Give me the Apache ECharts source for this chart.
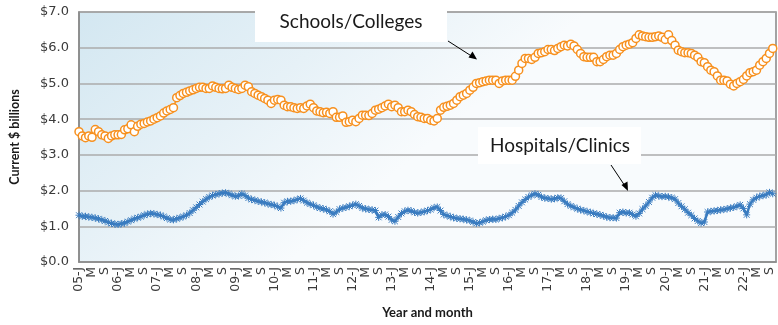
<!DOCTYPE html>
<html>
<head>
<meta charset="utf-8">
<script src="https://cdn.jsdelivr.net/npm/echarts@6/dist/echarts.min.js"></script>
<style>
  html, body { margin: 0; padding: 0; background: #ffffff; }
  #chart { width: 778px; height: 325px; }
</style>
</head>
<body>
<div id="chart"></div>
<script>
// Monthly construction spending, Jan 2005 - Oct 2022 (current $ billions)
const years = ['05','06','07','08','09','10','11','12','13','14','15','16','17','18','19','20','21','22'];
const monthLetters = ['J','F','M','A','M','J','J','A','S','O','N','D'];
const yTicks = [0, 1, 2, 3, 4, 5, 6, 7];

const schoolsColleges = [
  // 2005
  3.65, 3.53, 3.48, 3.53, 3.49, 3.71, 3.65, 3.56, 3.53, 3.46, 3.53, 3.56,
  // 2006
  3.56, 3.57, 3.70, 3.73, 3.84, 3.65, 3.80, 3.86, 3.88, 3.92, 3.95, 4.00,
  // 2007
  4.04, 4.09, 4.17, 4.23, 4.27, 4.32, 4.60, 4.66, 4.72, 4.75, 4.79, 4.82,
  // 2008
  4.86, 4.89, 4.89, 4.86, 4.86, 4.93, 4.89, 4.86, 4.85, 4.86, 4.95, 4.89,
  // 2009
  4.86, 4.83, 4.86, 4.95, 4.91, 4.77, 4.72, 4.67, 4.63, 4.58, 4.53, 4.44,
  // 2010
  4.53, 4.55, 4.53, 4.39, 4.35, 4.35, 4.32, 4.30, 4.32, 4.30, 4.37, 4.42,
  // 2011
  4.32, 4.23, 4.21, 4.18, 4.19, 4.16, 4.21, 4.05, 4.05, 4.09, 3.91, 3.93,
  // 2012
  3.97, 3.93, 4.02, 4.11, 4.11, 4.10, 4.16, 4.25, 4.28, 4.32, 4.37, 4.42,
  // 2013
  4.35, 4.39, 4.32, 4.21, 4.21, 4.25, 4.21, 4.13, 4.07, 4.05, 4.02, 4.02,
  // 2014
  3.97, 3.95, 4.02, 4.25, 4.33, 4.36, 4.39, 4.44, 4.53, 4.63, 4.67, 4.72,
  // 2015
  4.81, 4.89, 5.00, 5.02, 5.05, 5.07, 5.09, 5.09, 5.09, 5.00, 5.07, 5.09,
  // 2016
  5.09, 5.09, 5.20, 5.37, 5.56, 5.70, 5.70, 5.67, 5.73, 5.84, 5.86, 5.89,
  // 2017
  5.95, 5.95, 5.92, 5.98, 6.03, 6.07, 6.05, 6.10, 6.05, 5.95, 5.84, 5.75,
  // 2018
  5.73, 5.73, 5.73, 5.61, 5.61, 5.67, 5.75, 5.79, 5.79, 5.84, 5.95, 6.03,
  // 2019
  6.07, 6.10, 6.14, 6.26, 6.36, 6.33, 6.31, 6.29, 6.29, 6.31, 6.33, 6.29,
  // 2020
  6.23, 6.36, 6.20, 6.07, 5.93, 5.89, 5.86, 5.86, 5.84, 5.79, 5.73, 5.61,
  // 2021
  5.58, 5.47, 5.37, 5.33, 5.21, 5.09, 5.09, 5.07, 4.98, 4.93, 5.00, 5.05,
  // 2022 (Jan - Oct)
  5.11, 5.21, 5.30, 5.33, 5.37, 5.51, 5.61, 5.70, 5.84, 5.98
];

const hospitalsClinics = [
  // 2005
  1.31, 1.28, 1.28, 1.26, 1.25, 1.23, 1.21, 1.18, 1.15, 1.11, 1.08, 1.06,
  // 2006
  1.05, 1.07, 1.09, 1.13, 1.17, 1.21, 1.24, 1.27, 1.31, 1.34, 1.36, 1.35,
  // 2007
  1.33, 1.31, 1.27, 1.23, 1.19, 1.18, 1.21, 1.24, 1.27, 1.31, 1.37, 1.45,
  // 2008
  1.53, 1.61, 1.69, 1.76, 1.82, 1.86, 1.89, 1.91, 1.93, 1.94, 1.91, 1.87,
  // 2009
  1.84, 1.85, 1.91, 1.86, 1.79, 1.75, 1.73, 1.70, 1.68, 1.66, 1.63, 1.61,
  // 2010
  1.59, 1.55, 1.51, 1.66, 1.70, 1.70, 1.72, 1.75, 1.78, 1.72, 1.66, 1.62,
  // 2011
  1.59, 1.54, 1.51, 1.49, 1.46, 1.42, 1.34, 1.40, 1.48, 1.51, 1.53, 1.56,
  // 2012
  1.59, 1.62, 1.57, 1.51, 1.49, 1.47, 1.46, 1.44, 1.25, 1.32, 1.33, 1.27,
  // 2013
  1.18, 1.14, 1.26, 1.36, 1.42, 1.45, 1.43, 1.39, 1.37, 1.39, 1.41, 1.44,
  // 2014
  1.47, 1.52, 1.54, 1.44, 1.33, 1.30, 1.27, 1.24, 1.22, 1.21, 1.20, 1.18,
  // 2015
  1.16, 1.12, 1.08, 1.10, 1.13, 1.17, 1.19, 1.20, 1.19, 1.22, 1.24, 1.27,
  // 2016
  1.31, 1.38, 1.46, 1.57, 1.67, 1.75, 1.82, 1.87, 1.91, 1.88, 1.82, 1.79,
  // 2017
  1.78, 1.76, 1.77, 1.80, 1.79, 1.70, 1.62, 1.57, 1.53, 1.49, 1.46, 1.44,
  // 2018
  1.41, 1.39, 1.36, 1.34, 1.32, 1.29, 1.26, 1.24, 1.24, 1.23, 1.38, 1.40,
  // 2019
  1.37, 1.38, 1.33, 1.28, 1.36, 1.48, 1.57, 1.68, 1.80, 1.87, 1.85, 1.83,
  // 2020
  1.84, 1.82, 1.80, 1.76, 1.65, 1.56, 1.48, 1.38, 1.31, 1.22, 1.15, 1.09,
  // 2021
  1.12, 1.40, 1.42, 1.43, 1.44, 1.46, 1.47, 1.49, 1.51, 1.53, 1.56, 1.60,
  // 2022 (Jan - Oct)
  1.50, 1.32, 1.62, 1.74, 1.80, 1.84, 1.86, 1.88, 1.95, 1.91
];

// one category per month, e.g. '05-J', '05-F', ...
const months = [];
years.forEach(y => monthLetters.forEach(m => months.push(y + '-' + m)));
months.length = schoolsColleges.length;

const ORANGE = '#f7901e';
const BLUE = '#3a7cc0';
const asterisk = 'path://M0,0L10,10M10,0L0,10M5,-1L5,11M-1,5L11,5';

const chart = echarts.init(document.getElementById('chart'), null, { renderer: 'canvas' });

chart.setOption({
  animation: false,
  backgroundColor: '#ffffff',
  grid: {
    left: 77, right: 2, top: 12, bottom: 63,
    show: true,
    borderColor: '#858585',
    borderWidth: 1.5,
    backgroundColor: new echarts.graphic.LinearGradient(0, 0, 0.3, 1, [
      { offset: 0, color: '#d3e7f1' },
      { offset: 0.55, color: '#e6f1f7' },
      { offset: 1, color: '#f8fbfd' }
    ])
  },
  xAxis: {
    type: 'category',
    data: months,
    boundaryGap: false,
    max: months.length,
    name: 'Year and month',
    nameLocation: 'middle',
    nameGap: 44,
    nameTextStyle: { fontFamily: 'Lato', fontWeight: 'bold', fontSize: 13, color: '#1a1a1a' },
    axisLine: { lineStyle: { color: '#8a8a8a', width: 1.5 } },
    axisTick: { show: false },
    axisLabel: {
      interval: 3,
      rotate: 90,
      margin: 5,
      fontFamily: 'DejaVu Sans',
      fontSize: 12.5,
      color: '#3a3a3a',
      formatter: (v) => {
        if (!v) return '';
        const [yy, m] = v.split('-');
        return months.indexOf(v) % 12 === 0 ? yy + '-' + m : m;
      }
    },
    splitLine: { show: false }
  },
  yAxis: {
    type: 'value',
    min: yTicks[0],
    max: yTicks[yTicks.length - 1],
    interval: 1,
    name: 'Current $ billions',
    nameLocation: 'middle',
    nameGap: 58,
    nameRotate: 90,
    nameTextStyle: { fontFamily: 'Lato', fontWeight: 'bold', fontSize: 12.5, color: '#1a1a1a' },
    axisLine: { show: true, lineStyle: { color: '#8a8a8a', width: 1.5 } },
    axisTick: { show: false },
    axisLabel: {
      margin: 10,
      fontFamily: 'DejaVu Sans',
      fontSize: 13,
      color: '#3a3a3a',
      formatter: (v) => '$' + v.toFixed(1)
    },
    splitLine: { lineStyle: { color: '#ababab', width: 1.5 } }
  },
  series: [
    {
      name: 'Schools/Colleges',
      type: 'line',
      data: schoolsColleges,
      showAllSymbol: true,
      symbol: 'circle',
      symbolSize: 8,
      lineStyle: { color: ORANGE, width: 1.5 },
      itemStyle: { color: '#ffffff', borderColor: ORANGE, borderWidth: 1.5 },
      z: 3
    },
    {
      name: 'Hospitals/Clinics',
      type: 'line',
      data: hospitalsClinics,
      showAllSymbol: true,
      symbol: asterisk,
      symbolSize: 7,
      lineStyle: { color: BLUE, width: 2.5 },
      itemStyle: { color: BLUE, borderColor: BLUE, borderWidth: 1 },
      z: 3
    }
  ],
  graphic: [
    // callout for the schools/colleges series
    {
      type: 'rect', z: 10,
      shape: { x: 255, y: 0, width: 192, height: 42 },
      style: { fill: '#ffffff' }
    },
    {
      type: 'text', z: 11,
      style: {
        x: 351, y: 22, text: 'Schools/Colleges',
        align: 'center', verticalAlign: 'middle',
        font: '19px Lato', fill: '#1a1a1a'
      }
    },
    {
      type: 'line', z: 11,
      shape: { x1: 448, y1: 41, x2: 473, y2: 57 },
      style: { stroke: '#000000', lineWidth: 1 }
    },
    {
      type: 'polygon', z: 11,
      shape: { points: [[477, 59.5], [468.5, 57.5], [472.5, 51.5]] },
      style: { fill: '#000000' }
    },
    // callout for the hospitals/clinics series
    {
      type: 'rect', z: 10,
      shape: { x: 478, y: 127, width: 163, height: 37 },
      style: { fill: '#ffffff' }
    },
    {
      type: 'text', z: 11,
      style: {
        x: 560, y: 146, text: 'Hospitals/Clinics',
        align: 'center', verticalAlign: 'middle',
        font: '19px Lato', fill: '#1a1a1a'
      }
    },
    {
      type: 'line', z: 11,
      shape: { x1: 611, y1: 165, x2: 625, y2: 186 },
      style: { stroke: '#000000', lineWidth: 1 }
    },
    {
      type: 'polygon', z: 11,
      shape: { points: [[628, 191], [621.5, 185], [627.5, 181.5]] },
      style: { fill: '#000000' }
    }
  ]
});
</script>
</body>
</html>
